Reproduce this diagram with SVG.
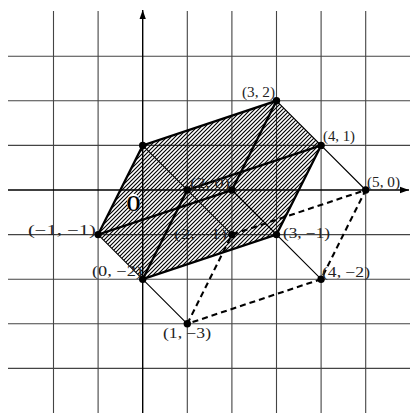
<svg xmlns="http://www.w3.org/2000/svg" width="410" height="413" viewBox="0 0 410 413">
<defs>
<pattern id="hatch" patternUnits="userSpaceOnUse" width="4" height="4">
<path d="M-1,1 L1,-1 M0,4 L4,0 M3,5 L5,3" stroke="#000" stroke-width="1.15"/>
</pattern>
<marker id="arr" viewBox="0 0 10 10" refX="10" refY="5" markerWidth="9" markerHeight="9" orient="auto" markerUnits="userSpaceOnUse">
<path d="M0,1.5 L10,5 L0,8.5 Z" fill="#000"/>
</marker>
</defs>
<style>
.grid{stroke:#444;stroke-width:1.1;fill:none}
.axis{stroke:#000;stroke-width:1.4;fill:none}
.thick{stroke:#000;stroke-width:2.3;stroke-linecap:round;fill:none}
.thin{stroke:#000;stroke-width:1.1;fill:none}
.dash{stroke:#000;stroke-width:2.1;stroke-dasharray:6 4;fill:none}
.lbl{font-family:"Liberation Serif","Times New Roman",serif;font-size:14px;fill:#222}
.dot{fill:#000}
</style>
<rect width="410" height="413" fill="#fff"/>
<g id="grid" class="grid">
<path d="M53.5,11V413M98.1,11V413M187.3,11V413M231.9,11V413M276.5,11V413M321.1,11V413M365.7,11V413"/>
<path d="M8,56.2H410M8,100.8H410M8,145.4H410M8,234.6H410M8,279.2H410M8,323.8H410M8,368.4H410"/>
</g>
<g id="region">
<polygon points="142.7,145.4 276.5,100.8 321.1,145.4 276.5,234.6 142.7,279.2 98.1,234.6" fill="url(#hatch)" stroke="none"/>
<ellipse cx="133.4" cy="202.5" rx="6.5" ry="9" fill="#fff"/>
</g>
<g id="axes" class="axis">
<line x1="8" y1="190" x2="409" y2="190" marker-end="url(#arr)"/>
<line x1="142.7" y1="413" x2="142.7" y2="10" marker-end="url(#arr)"/>
</g>
<g id="connectors">
<path class="thick" d="M98.1,234.6 L142.7,145.4 L276.5,100.8 L231.9,190 Z"/>
<path class="thick" d="M142.7,279.2 L276.5,234.6 L321.1,145.4 L187.3,190 Z"/>
<path class="thin" d="M276.5,100.8 L365.7,190 M142.7,145.4 L231.9,234.6 M231.9,190 L321.1,279.2 M98.1,234.6 L187.3,323.8"/>
<path class="dash" d="M187.3,323.8 L231.9,234.6 L365.7,190 L321.1,279.2 Z"/>
</g>
<g id="n-origin"><text x="133.4" y="210.5" font-family="Liberation Serif,serif" font-size="24" font-weight="bold" text-anchor="middle" textLength="14" lengthAdjust="spacingAndGlyphs" fill="#000">O</text></g>
<g id="n-3-2"><circle class="dot" cx="276.5" cy="100.8" r="3.7"/><text class="lbl" x="242" y="97" textLength="33" lengthAdjust="spacingAndGlyphs">(3, 2)</text></g>
<g id="n-4-1"><circle class="dot" cx="321.1" cy="145.4" r="3.7"/><text class="lbl" x="323" y="141" textLength="32" lengthAdjust="spacingAndGlyphs">(4, 1)</text></g>
<g id="n-5-0"><circle class="dot" cx="365.7" cy="190" r="3.7"/><text class="lbl" x="367" y="187" textLength="33" lengthAdjust="spacingAndGlyphs">(5, 0)</text></g>
<g id="n-0-1"><circle class="dot" cx="142.7" cy="145.4" r="3.7"/></g>
<g id="n-1-0"><circle class="dot" cx="187.3" cy="190" r="3.7"/></g>
<g id="n-2-0"><circle class="dot" cx="231.9" cy="190" r="3.7"/><text class="lbl" x="190" y="188" textLength="40" lengthAdjust="spacingAndGlyphs">(2, 0)</text></g>
<g id="n-m1-m1"><circle class="dot" cx="98.1" cy="234.6" r="3.7"/><text class="lbl" x="28" y="235" textLength="68" lengthAdjust="spacingAndGlyphs">(−1, −1)</text></g>
<g id="n-0-m2"><circle class="dot" cx="142.7" cy="279.2" r="3.7"/><text class="lbl" x="92" y="276" textLength="50" lengthAdjust="spacingAndGlyphs">(0, −2)</text></g>
<g id="n-1-m3"><circle class="dot" cx="187.3" cy="323.8" r="3.7"/><text class="lbl" x="163" y="338" textLength="48" lengthAdjust="spacingAndGlyphs">(1, −3)</text></g>
<g id="n-2-m1"><circle class="dot" cx="231.9" cy="234.6" r="3.7"/><text class="lbl" x="174" y="239" textLength="53" lengthAdjust="spacingAndGlyphs">(2, −1)</text></g>
<g id="n-3-m1"><circle class="dot" cx="276.5" cy="234.6" r="3.7"/><text class="lbl" x="283" y="238" textLength="47" lengthAdjust="spacingAndGlyphs">(3, −1)</text></g>
<g id="n-4-m2"><circle class="dot" cx="321.1" cy="279.2" r="3.7"/><text class="lbl" x="322" y="277" textLength="48" lengthAdjust="spacingAndGlyphs">(4, −2)</text></g>
</svg>
